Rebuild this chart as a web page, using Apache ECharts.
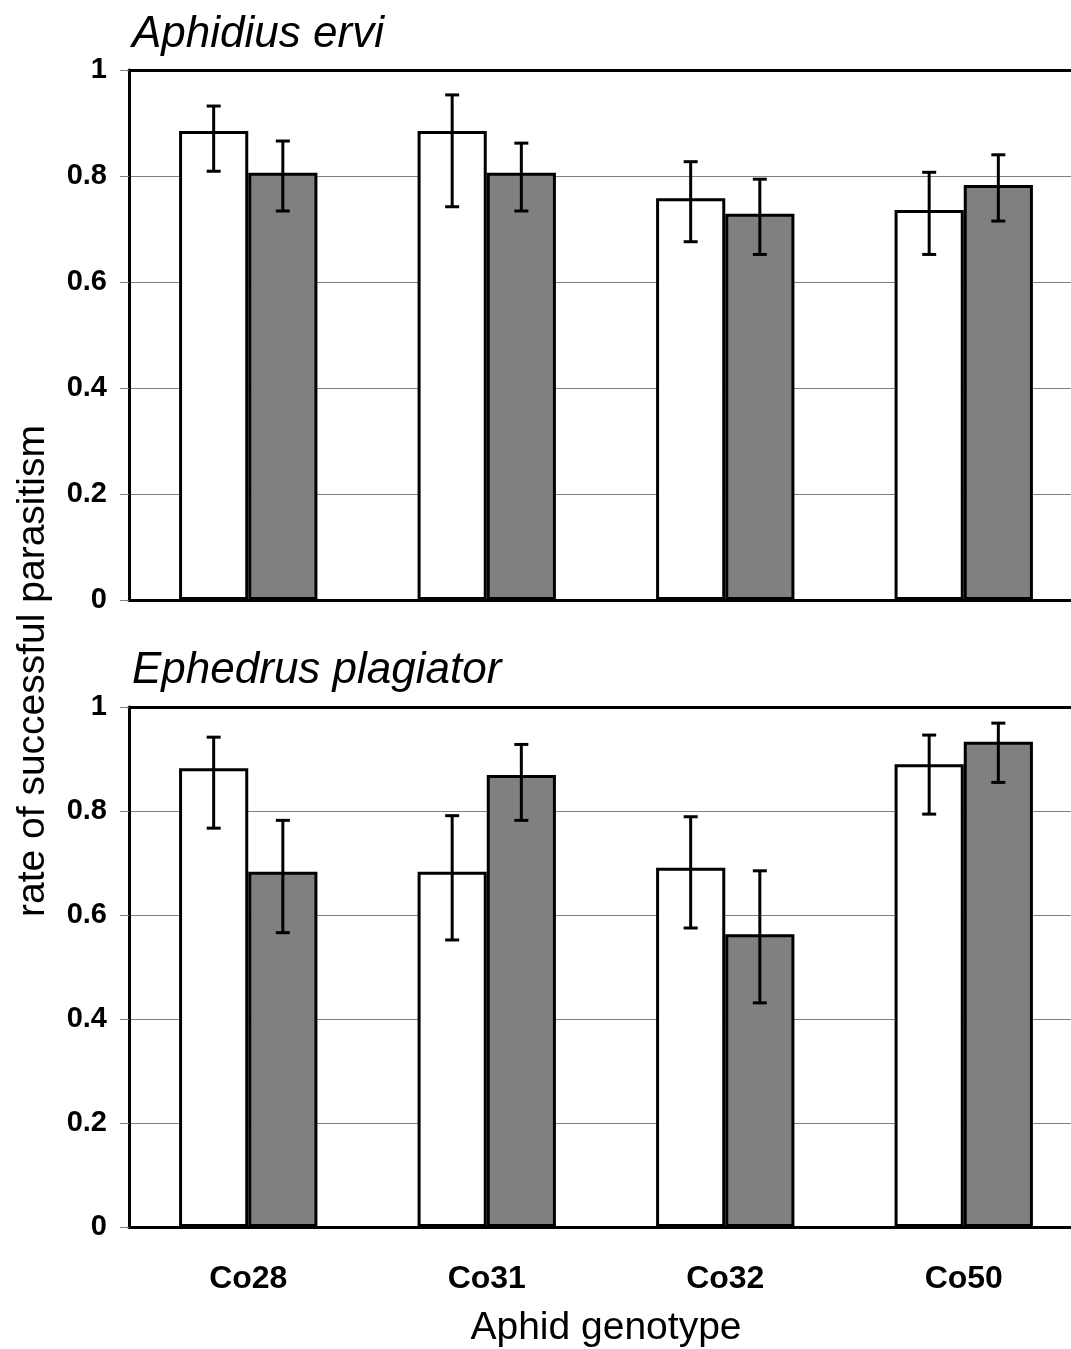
<!DOCTYPE html>
<html>
<head>
<meta charset="utf-8">
<script src="https://cdn.jsdelivr.net/npm/echarts@6/dist/echarts.min.js"></script>
<style>
  html, body { margin: 0; padding: 0; background: #fff; overflow: hidden; }
  #chart { width: 1083px; height: 1349px; }
</style>
</head>
<body>
<div id="chart"></div>
<script>
var categories = ['Co28', 'Co31', 'Co32', 'Co50'];
var yTicks = [0, 0.2, 0.4, 0.6, 0.8, 1];

// Aphidius ervi (top panel)
var erviWhite = [0.885, 0.885, 0.758, 0.736];
var erviWhiteLow = [0.809, 0.742, 0.676, 0.652];
var erviWhiteHigh = [0.932, 0.953, 0.827, 0.807];
var erviGrey = [0.806, 0.806, 0.729, 0.783];
var erviGreyLow = [0.734, 0.734, 0.652, 0.715];
var erviGreyHigh = [0.866, 0.862, 0.794, 0.840];

// Ephedrus plagiator (bottom panel)
var plagWhite = [0.882, 0.683, 0.691, 0.890];
var plagWhiteLow = [0.767, 0.552, 0.575, 0.794];
var plagWhiteHigh = [0.942, 0.791, 0.789, 0.946];
var plagGrey = [0.683, 0.869, 0.563, 0.933];
var plagGreyLow = [0.566, 0.782, 0.431, 0.855];
var plagGreyHigh = [0.782, 0.928, 0.685, 0.969];

var font = 'Liberation Sans, Arial, sans-serif';
var barFrac = 0.29;

var myChart = echarts.init(document.getElementById('chart'));

function errData(low, high) {
  return categories.map(function (c, i) { return [i, low[i], high[i]]; });
}

function errSeries(idx, low, high, side) {
  return {
    type: 'custom',
    xAxisIndex: idx * 2,
    yAxisIndex: idx,
    z: 10,
    silent: true,
    data: errData(low, high),
    encode: { x: 0, y: [1, 2] },
    renderItem: function (params, api) {
      var band = api.size([1, 0])[0];
      var off = side * band * barFrac / 2;
      var lo = api.coord([api.value(0), api.value(1)]);
      var hi = api.coord([api.value(0), api.value(2)]);
      var x = lo[0] + off;
      var cap = 7;
      var st = { stroke: '#000', lineWidth: 3 };
      return {
        type: 'group',
        children: [
          { type: 'line', shape: { x1: x, y1: lo[1], x2: x, y2: hi[1] }, style: st },
          { type: 'line', shape: { x1: x - cap, y1: lo[1], x2: x + cap, y2: lo[1] }, style: st },
          { type: 'line', shape: { x1: x - cap, y1: hi[1], x2: x + cap, y2: hi[1] }, style: st }
        ]
      };
    }
  };
}

function barSeries(idx, values, color) {
  return {
    type: 'bar',
    xAxisIndex: idx * 2,
    yAxisIndex: idx,
    data: values,
    barWidth: (barFrac * 100) + '%',
    barGap: '0%',
    itemStyle: { color: color, borderColor: '#000', borderWidth: 3 },
    silent: true
  };
}

function xAxes(idx, showLabels) {
  return [
    {
      type: 'category',
      gridIndex: idx,
      data: categories,
      axisLine: { lineStyle: { color: '#000', width: 3 } },
      axisTick: { show: false },
      axisLabel: {
        show: showLabels,
        fontFamily: font, fontWeight: 'bold', fontSize: 32, color: '#000', margin: 36
      },
      name: showLabels ? 'Aphid genotype' : '',
      nameLocation: 'middle',
      nameGap: 82,
      nameTextStyle: { fontFamily: font, fontSize: 39, color: '#000' }
    },
    {
      type: 'category',
      gridIndex: idx,
      position: 'top',
      data: categories,
      axisLine: { lineStyle: { color: '#000', width: 3 } },
      axisTick: { show: false },
      axisLabel: { show: false }
    }
  ];
}

function yAxis(idx) {
  return {
    type: 'value',
    gridIndex: idx,
    min: 0,
    max: 1,
    interval: 0.2,
    axisLine: { show: true, lineStyle: { color: '#000', width: 3 } },
    axisTick: { show: true, length: 9, lineStyle: { color: '#808080', width: 1 } },
    axisLabel: {
      fontFamily: font, fontWeight: 'bold', fontSize: 29, color: '#000', margin: 22,
      formatter: function (v) { return yTicks.indexOf(v) >= 0 ? String(v) : ''; }
    },
    splitLine: { lineStyle: { color: '#808080', width: 1 } }
  };
}

var option = {
  backgroundColor: '#fff',
  animation: false,
  title: [
    {
      text: 'Aphidius ervi', left: 127, top: 8,
      textStyle: { fontFamily: font, fontSize: 44, fontStyle: 'italic', fontWeight: 'normal', color: '#000' }
    },
    {
      text: 'Ephedrus plagiator', left: 127, top: 644,
      textStyle: { fontFamily: font, fontSize: 44, fontStyle: 'italic', fontWeight: 'normal', color: '#000' }
    }
  ],
  graphic: [
    {
      type: 'text',
      x: 33, y: 671,
      rotation: Math.PI / 2,
      style: {
        text: 'rate of successful parasitism',
        fontFamily: font, fontSize: 39, fill: '#000',
        align: 'center', verticalAlign: 'middle'
      }
    }
  ],
  grid: [
    { left: 129, top: 70, width: 954, height: 530 },
    { left: 129, top: 707, width: 954, height: 522 }
  ],
  xAxis: xAxes(0, false).concat(xAxes(1, true)),
  yAxis: [yAxis(0), yAxis(1)],
  series: [
    barSeries(0, erviWhite, '#ffffff'),
    barSeries(0, erviGrey, '#808080'),
    errSeries(0, erviWhiteLow, erviWhiteHigh, -1),
    errSeries(0, erviGreyLow, erviGreyHigh, 1),
    barSeries(1, plagWhite, '#ffffff'),
    barSeries(1, plagGrey, '#808080'),
    errSeries(1, plagWhiteLow, plagWhiteHigh, -1),
    errSeries(1, plagGreyLow, plagGreyHigh, 1)
  ]
};

myChart.setOption(option);
</script>
</body>
</html>
